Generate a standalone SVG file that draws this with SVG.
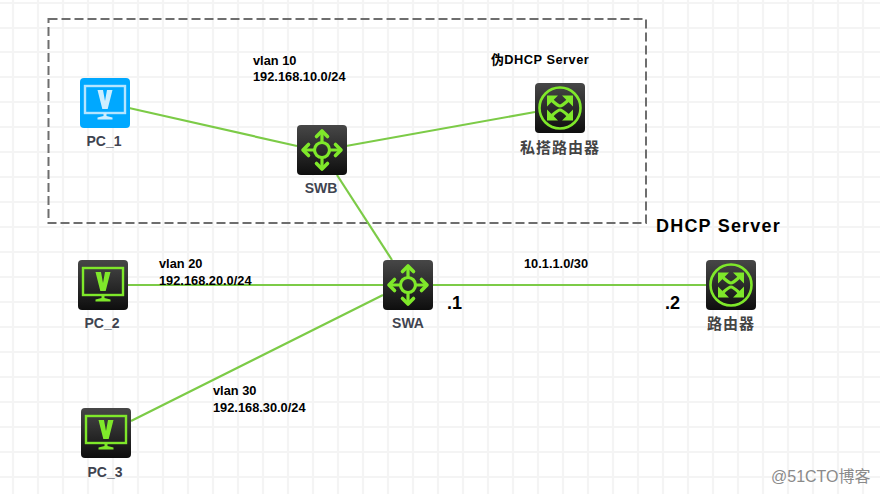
<svg xmlns="http://www.w3.org/2000/svg" xmlns:xlink="http://www.w3.org/1999/xlink" width="880" height="494" viewBox="0 0 880 494">
<style>
text{font-family:"Liberation Sans","Noto Sans CJK SC",sans-serif}
.lab{font-size:14px;font-weight:bold;fill:#3f4450;text-anchor:middle}
.cn{font-size:15px;font-weight:bold;fill:#444;text-anchor:middle;letter-spacing:1px;font-family:"Noto Sans CJK SC","Liberation Sans",sans-serif}
.note{font-size:12.800px;font-weight:bold;fill:#000}
.big{font-size:18px;font-weight:bold;fill:#000}
.link{stroke:#7ccb47;stroke-width:2.200;fill:none}
.grid{stroke:#f4f4f4;stroke-width:2.200;fill:none}
.g{stroke:#7fe82a;fill:none}
</style>
<defs>
<linearGradient id="dark" x1="0" y1="0" x2="0" y2="1"><stop offset="0" stop-color="#474747"/><stop offset="1" stop-color="#0e0e0e"/></linearGradient>
<g id="swIcon">
<rect width="50" height="50" rx="4" fill="url(#dark)"/>
<circle cx="25" cy="25" r="7.500" class="g" stroke-width="3.200"/>
<path d="M25 17V7M25 33V43M17 25H7M33 25H43" class="g" stroke-width="3.200"/>
<path d="M19.500 11.500L25 6L30.500 11.500M19.500 38.500L25 44L30.500 38.500M11.500 19.500L6 25L11.500 30.500M38.500 19.500L44 25L38.500 30.500" class="g" stroke-width="3.600" stroke-linejoin="round" stroke-linecap="round"/>
</g>
<g id="rtIcon">
<rect width="50" height="50" rx="4" fill="url(#dark)"/>
<circle cx="25" cy="25" r="20.500" class="g" stroke-width="2.600"/>
<path d="M12 12.500H23L12 23.500ZM38 12.500H27L38 23.500ZM12 37.500H23L12 26.500ZM38 37.500H27L38 26.500Z" fill="#7fe82a"/>
<path d="M17 17.500Q23 23 25 23Q27 23 33 17.500M17 32.500Q23 27 25 27Q27 27 33 32.500" class="g" stroke-width="3.200"/>
</g>
<g id="pcGreen">
<rect width="50" height="50" rx="4" fill="url(#dark)"/>
<rect x="5" y="8" width="40" height="27" fill="none" stroke="#7fe82a" stroke-width="2.400"/>
<path d="M17.500 12h5.500l2 11 2-11h5.500l-4.800 19h-5.400z" fill="#7fe82a"/>
<path d="M23.500 35h3v3l6 1.500v2h-15v-2l6-1.500z" fill="#7fe82a"/>
</g>
<g id="pcBlue">
<rect width="50" height="50" rx="4" fill="#00a8ff"/>
<rect x="5" y="8" width="40" height="27" fill="none" stroke="#b5e5ff" stroke-width="2.400"/>
<path d="M17.500 12h5.500l2 11 2-11h5.500l-4.800 19h-5.400z" fill="#cdeeff"/>
<path d="M23.500 35h3v3l6 1.500v2h-15v-2l6-1.500z" fill="#cdeeff"/>
</g>
</defs>
<rect width="880" height="494" fill="#fff"/>
<g id="grid">
<path class="grid" d="M13 0V494M38 0V494M63 0V494M88 0V494M113 0V494M138 0V494M163 0V494M188 0V494M213 0V494M238 0V494M263 0V494M288 0V494M313 0V494M338 0V494M363 0V494M388 0V494M413 0V494M438 0V494M463 0V494M488 0V494M513 0V494M538 0V494M563 0V494M588 0V494M613 0V494M638 0V494M663 0V494M688 0V494M713 0V494M738 0V494M763 0V494M788 0V494M813 0V494M838 0V494M863 0V494"/>
<path class="grid" d="M0 3H880M0 28H880M0 52H880M0 77H880M0 102H880M0 127H880M0 152H880M0 177H880M0 202H880M0 227H880M0 252H880M0 277H880M0 302H880M0 327H880M0 352H880M0 377H880M0 402H880M0 427H880M0 452H880M0 477H880"/>
</g>
<rect id="zone" x="48.500" y="19" width="597.500" height="204" fill="none" stroke="#6e6e6e" stroke-width="2" stroke-dasharray="9 4"/>
<g id="connectors">
<path class="link" d="M129 108L297 146"/>
<path class="link" d="M346 146L535 112"/>
<path class="link" d="M337 175L392 260"/>
<path class="link" d="M127 285H383"/>
<path class="link" d="M131 421L383 295"/>
<path class="link" d="M433 285H706"/>
</g>
<g id="PC_1"><use xlink:href="#pcBlue" x="80" y="78"/><text class="lab" x="104" y="146">PC_1</text></g>
<g id="SWB"><use xlink:href="#swIcon" x="297" y="125"/><text class="lab" x="321" y="193">SWB</text></g>
<g id="fake_router"><use xlink:href="#rtIcon" x="535" y="83"/><text class="cn" x="560" y="153">私搭路由器</text></g>
<g id="PC_2"><use xlink:href="#pcGreen" x="78" y="260"/><text class="lab" x="102" y="328">PC_2</text></g>
<g id="SWA"><use xlink:href="#swIcon" x="383" y="260"/><text class="lab" x="408" y="328">SWA</text></g>
<g id="router"><use xlink:href="#rtIcon" x="706" y="260"/><text class="cn" x="731" y="329">路由器</text></g>
<g id="PC_3"><use xlink:href="#pcGreen" x="81" y="408"/><text class="lab" x="105" y="477">PC_3</text></g>
<g id="labels">
<text class="note" x="253" y="65">vlan 10</text>
<text class="note" x="253" y="81">192.168.10.0/24</text>
<text class="note" x="491" y="64" letter-spacing="0.500">伪DHCP Server</text>
<text class="note" x="159" y="268">vlan 20</text>
<text class="note" x="159" y="285">192.168.20.0/24</text>
<text class="note" x="213" y="395">vlan 30</text>
<text class="note" x="213" y="412">192.168.30.0/24</text>
<text class="note" x="524" y="268">10.1.1.0/30</text>
<text class="big" x="656" y="232" letter-spacing="1.200">DHCP Server</text>
<text class="big" x="447" y="309">.1</text>
<text class="big" x="665" y="309">.2</text>
<text x="771" y="482" font-size="16" fill="#8a8a8a">@51CTO博客</text>
</g>
</svg>
